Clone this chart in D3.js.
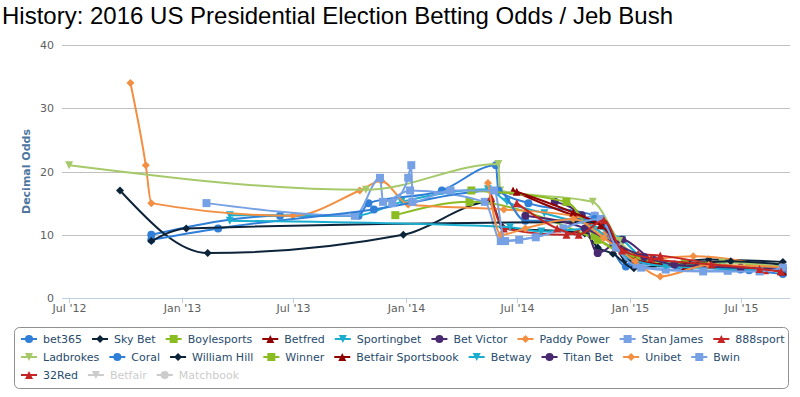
<!DOCTYPE html>
<head>
  <meta charset="utf-8">
  <script src="https://d3js.org/d3.v7.min.js"></script>
  <style>
    body { margin: 0; background: #fff; }
    svg text { font-family: "DejaVu Sans", Verdana, Arial, sans-serif; }
    .title { font-family: "Liberation Sans", Arial, sans-serif !important; font-size: 24px; fill: #000; }
    .grid line { stroke: #c0c0c0; stroke-width: 1; }
    .tick-label { font-size: 11px; fill: #606060; }
    .axis-title { font-size: 11px; font-weight: bold; fill: #4d759e; }
    .legend-label { font-size: 11px; fill: #274b6d; }
    .legend-label.hidden { fill: #ccc; }
  </style>
</head>

<body>
  <div id="chart"></div>

  <script>
    // odds per bookmaker: [date, decimal odds]
    var bet365 = [["2012-11-12",10],["2013-06-10",13],["2013-10-16",13],["2013-11-01",15],["2014-03-01",17],["2014-05-28",21],["2014-06-01",17],["2014-07-20",15],["2014-11-05",13],["2014-12-26",5],["2015-03-20",5],["2015-07-01",4.5],["2015-09-08",3.8]];
    var skyBet = [["2012-09-22",17],["2013-02-12",7.1],["2013-12-28",10],["2014-05-20",15.2],["2014-06-08",11.2],["2014-10-20",10.2],["2014-11-10",8],["2014-12-05",7],["2015-01-08",4.7],["2015-05-10",6.1],["2015-09-08",5.7]];
    var boylesports = [["2013-12-15",13.1],["2014-04-15",15.2],["2014-11-10",9.2],["2015-01-15",6.3],["2015-04-01",5.5],["2015-07-15",5],["2015-09-05",4.8]];
    var betfred = [["2014-06-25",17],["2014-10-05",13],["2014-11-05",12.2],["2014-12-20",8],["2015-02-15",5.8],["2015-05-20",5.3],["2015-09-08",4.2]];
    var sportingbet = [["2013-03-20",13.1],["2013-10-10",13],["2013-12-25",15.2],["2014-05-15",17.2],["2014-06-15",15.2],["2014-08-15",13.4],["2014-12-20",9.2],["2015-02-01",5.8],["2015-06-01",5],["2015-09-05",4.6]];
    var betVictor = [["2014-09-01",15.2],["2014-10-15",13.1],["2014-11-10",7.1],["2014-12-20",9.2],["2015-02-10",6],["2015-05-01",5.2],["2015-09-05",4.4]];
    var paddyPower = [["2012-10-09",34],["2012-11-03",21],["2012-11-12",15],["2013-07-01",13],["2013-10-18",17],["2013-11-22",18.5],["2014-01-05",14.8],["2014-06-10",14],["2014-10-01",13],["2014-11-20",10],["2015-01-05",6],["2015-04-15",6.6],["2015-09-05",4.6]];
    var stanJames = [["2013-02-10",15],["2013-10-10",13],["2013-11-20",19],["2013-11-25",15.2],["2014-01-08",17],["2014-05-10",15.2],["2014-06-05",9],["2014-07-05",9.2],["2014-09-15",11],["2014-11-05",13],["2014-12-05",9],["2015-01-12",5.3],["2015-03-01",4.5],["2015-06-10",4.3],["2015-09-01",4.6]];
    var sport888 = [["2014-05-20",16],["2014-06-10",11],["2014-09-20",10],["2014-11-15",12.3],["2014-12-10",8],["2015-01-15",7],["2015-02-20",6.7],["2015-06-01",5.2],["2015-08-10",4.4],["2015-09-08",4.9]];
    var ladbrokes = [["2012-07-01",21],["2013-10-28",17.1],["2014-06-01",21.2],["2014-06-04",17],["2014-11-02",15.2],["2014-12-15",9],["2015-02-15",5.5],["2015-06-01",5.6],["2015-09-01",5]];
    var coral = [["2012-11-12",9.2],["2013-03-01",11],["2013-11-10",14],["2014-06-01",17],["2014-07-15",12.2],["2014-11-05",12.5],["2015-01-05",5.7],["2015-04-10",5],["2015-07-15",4.4],["2015-09-08",4.5]];
    var williamHill = [["2012-11-12",9],["2013-01-08",11],["2014-11-20",12],["2014-12-25",6],["2015-03-01",5.3],["2015-06-15",5.8],["2015-09-05",5.3]];
    var winner = [["2014-04-18",17],["2014-09-20",15.2],["2014-11-05",9.8],["2015-01-10",6.5],["2015-05-01",5],["2015-09-05",4.6]];
    var betfairSportsbook = [["2014-07-01",16.8],["2014-10-01",13.5],["2014-11-15",11.5],["2015-01-10",6],["2015-04-01",5],["2015-07-01",4.8],["2015-09-05",4.3]];
    var betway = [["2013-03-20",12.2],["2014-06-20",11.2],["2014-08-10",10.5],["2014-11-01",11],["2014-12-25",6.5],["2015-03-01",5],["2015-06-15",4.6],["2015-09-05",4.5]];
    var titanBet = [["2014-07-15",13],["2014-10-20",11],["2014-12-10",8.5],["2015-01-25",6.5],["2015-03-15",5.3],["2015-07-01",4.8],["2015-09-08",4.6]];
    var unibet = [["2014-05-15",18.2],["2014-06-05",10],["2014-07-15",11],["2014-10-01",12.5],["2014-11-20",9.5],["2015-01-10",5.8],["2015-02-20",3.4],["2015-05-10",5.2],["2015-09-05",4.9]];
    var bwin = [["2013-12-10",15],["2014-01-05",19],["2014-01-10",21],["2014-01-12",15.2],["2014-03-15",17],["2014-05-25",17],["2014-06-12",9],["2014-08-01",9.6],["2014-11-15",12.5],["2014-12-10",8],["2015-01-20",4.8],["2015-05-01",4.2],["2015-08-01",4.2],["2015-09-08",4.8]];
    var red32 = [["2014-07-01",15],["2014-09-05",11],["2014-10-10",10],["2014-11-20",12.3],["2014-12-20",7.5],["2015-02-05",6.3],["2015-05-15",5.3],["2015-08-01",4.6],["2015-09-05",4.2]];
    var betfair = [];
    var matchbook = [];

    var bookmakers = ["bet365", "Sky Bet", "Boylesports", "Betfred", "Sportingbet", "Bet Victor", "Paddy Power", "Stan James", "888sport",
                      "Ladbrokes", "Coral", "William Hill", "Winner", "Betfair Sportsbook", "Betway", "Titan Bet", "Unibet", "Bwin",
                      "32Red", "Betfair", "Matchbook"];
    var seriesData = [bet365, skyBet, boylesports, betfred, sportingbet, betVictor, paddyPower, stanJames, sport888,
                      ladbrokes, coral, williamHill, winner, betfairSportsbook, betway, titanBet, unibet, bwin,
                      red32, betfair, matchbook];
    var hiddenSeries = ["Betfair", "Matchbook"];
    var yTicks = [0, 10, 20, 30, 40];
    var xTicks = ["2012-07-01", "2013-01-01", "2013-07-01", "2014-01-01", "2014-07-01", "2015-01-01", "2015-07-01"];

    var palette = ["#2f7ed8", "#0d233a", "#8bbc21", "#910000", "#1aadce", "#492970", "#f28f43", "#77a1e5", "#c42525", "#a6c96a"];
    var symbols = ["circle", "diamond", "square", "triangle", "triangle-down"];

    var parse = d3.timeParse("%Y-%m-%d");
    var series = bookmakers.map(function(name, i) {
      return {
        name: name,
        color: hiddenSeries.indexOf(name) >= 0 ? "#ccc" : palette[i % palette.length],
        symbol: symbols[i % symbols.length],
        hidden: hiddenSeries.indexOf(name) >= 0,
        points: seriesData[i].map(function(p) { return {date: parse(p[0]), v: p[1]}; })
      };
    });

    function symbolPath(type, r) {
      if (type == "circle") return "M" + (-r) + ",0a" + r + "," + r + " 0 1,0 " + (2*r) + ",0a" + r + "," + r + " 0 1,0 " + (-2*r) + ",0Z";
      if (type == "square") return "M" + (-r) + "," + (-r) + "h" + (2*r) + "v" + (2*r) + "h" + (-2*r) + "Z";
      if (type == "diamond") return "M0," + (-r) + "L" + r + ",0L0," + r + "L" + (-r) + ",0Z";
      if (type == "triangle") return "M0," + (-r) + "L" + r + "," + r + "L" + (-r) + "," + r + "Z";
      return "M" + (-r) + "," + (-r) + "L" + r + "," + (-r) + "L0," + r + "Z";
    }

    var width = 800, height = 397,
        plotLeft = 62, plotRight = 790, plotTop = 45, plotBottom = 298;

    var svg = d3.select("#chart").append("svg")
      .attr("width", width)
      .attr("height", height);

    svg.append("text")
      .attr("class", "title")
      .attr("x", 2)
      .attr("y", 24)
      .text("History: 2016 US Presidential Election Betting Odds / Jeb Bush");

    var allDates = [];
    series.forEach(function(s) { s.points.forEach(function(p) { allDates.push(p.date); }); });
    var ext = d3.extent(allDates), pad = (ext[1] - ext[0]) * 0.01;

    var x = d3.scaleTime()
      .domain([new Date(+ext[0] - pad), new Date(+ext[1] + pad)])
      .range([plotLeft, plotRight]);
    var y = d3.scaleLinear()
      .domain([0, 40])
      .range([plotBottom, plotTop]);

    var grid = svg.append("g").classed("grid", true);
    grid.selectAll("line")
        .data(yTicks.filter(function(d) { return d > 0; }))
      .enter().append("line")
        .attr("x1", plotLeft).attr("x2", plotRight)
        .attr("y1", function(d) { return Math.round(y(d)) + 0.5; })
        .attr("y2", function(d) { return Math.round(y(d)) + 0.5; });

    svg.selectAll("text.ylab")
        .data(yTicks)
      .enter().append("text")
        .attr("class", "tick-label ylab")
        .attr("x", 54)
        .attr("y", function(d) { return y(d) + 4; })
        .attr("text-anchor", "end")
        .text(function(d) { return d; });

    svg.append("line")
      .attr("x1", plotLeft).attr("x2", plotRight)
      .attr("y1", plotBottom + 0.5).attr("y2", plotBottom + 0.5)
      .attr("stroke", "#c0d0e0");

    var fmt = d3.timeFormat("%b '%y");
    var xt = svg.selectAll("g.xtick")
        .data(xTicks.map(parse))
      .enter().append("g")
        .attr("class", "xtick")
        .attr("transform", function(d) { return "translate(" + (Math.round(x(d)) + 0.5) + ",0)"; });
    xt.append("line")
      .attr("y1", plotBottom).attr("y2", plotBottom + 5)
      .attr("stroke", "#c0d0e0");
    xt.append("text")
      .attr("class", "tick-label")
      .attr("y", 312)
      .attr("text-anchor", "middle")
      .text(fmt);

    svg.append("text")
      .attr("class", "axis-title")
      .attr("transform", "translate(26," + ((plotTop + plotBottom) / 2) + ") rotate(-90)")
      .attr("text-anchor", "middle")
      .attr("dy", "0.35em")
      .text("Decimal Odds");

    var line = d3.line()
      .x(function(d) { return x(d.date); })
      .y(function(d) { return y(d.v); })
      .curve(d3.curveMonotoneX);

    var seriesLayer = svg.append("g");
    series.filter(function(s) { return !s.hidden && s.points.length; }).forEach(function(s) {
      var g = seriesLayer.append("g");
      g.append("path")
        .attr("d", line(s.points))
        .attr("fill", "none")
        .attr("stroke", s.color)
        .attr("stroke-width", 2);
      g.selectAll("path.marker")
          .data(s.points)
        .enter().append("path")
          .attr("class", "marker")
          .attr("d", symbolPath(s.symbol, 4))
          .attr("fill", s.color)
          .attr("transform", function(d) { return "translate(" + x(d.date) + "," + y(d.v) + ")"; });
    });

    // legend
    svg.append("rect")
      .attr("x", 14.5).attr("y", 327.5)
      .attr("width", 774).attr("height", 61)
      .attr("rx", 5)
      .attr("fill", "none")
      .attr("stroke", "#909090");

    var lx = 21, ly = 339;
    series.forEach(function(s) {
      var g = svg.append("g");
      var t = g.append("text")
        .attr("class", "legend-label" + (s.hidden ? " hidden" : ""))
        .attr("x", 22)
        .attr("y", 4)
        .text(s.name);
      var w = t.node().getComputedTextLength();
      if (lx + 22 + w > 790) { lx = 21; ly += 18; }
      g.attr("transform", "translate(" + lx + "," + ly + ")");
      g.append("line")
        .attr("x1", 0).attr("x2", 16)
        .attr("stroke", s.color).attr("stroke-width", 2);
      g.append("path")
        .attr("d", symbolPath(s.symbol, 4))
        .attr("transform", "translate(8,0)")
        .attr("fill", s.color);
      lx += 22 + w + 10;
    });
  </script>
</body>
